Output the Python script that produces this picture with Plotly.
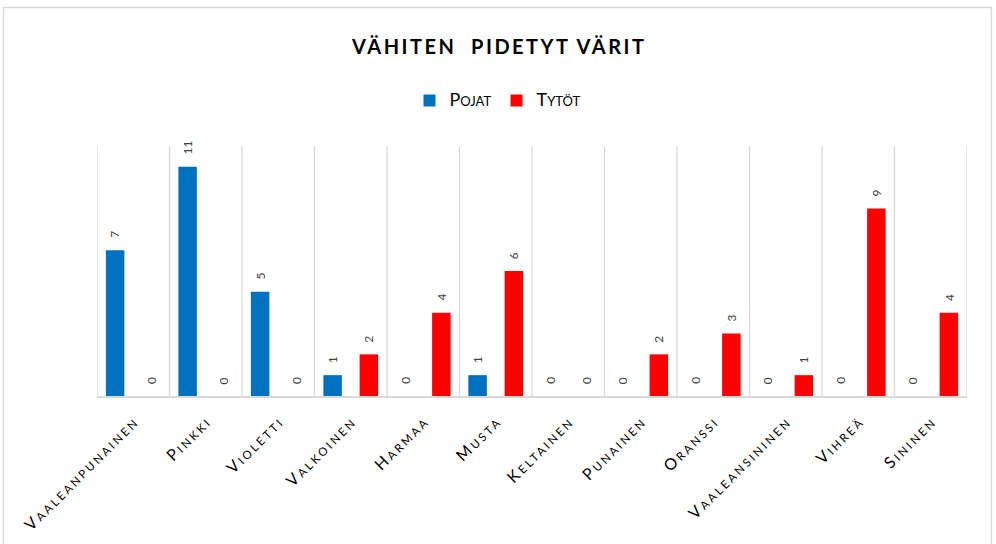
import plotly.graph_objects as go

categories = ["Vaaleanpunainen", "Pinkki", "Violetti", "Valkoinen", "Harmaa", "Musta",
              "Keltainen", "Punainen", "Oranssi", "Vaaleansininen", "Vihreä", "Sininen"]
pojat = [7, 11, 5, 1, 0, 1, 0, 0, 0, 0, 0, 0]
tytot = [0, 0, 0, 2, 4, 6, 0, 2, 3, 1, 9, 4]
series_names = ["Pojat", "Tytöt"]
colors = ["#0070C0", "#FF0000"]
title_text = "VÄHITEN  PIDETYT VÄRIT"

FONT = "Lato, 'Open Sans', sans-serif"


def smallcaps(s, big=16, small=11.5):
    return (f"<span style='font-size:{big}px'>{s[0].upper()}</span>"
            f"<span style='font-size:{small}px'>{s[1:].upper()}</span>")


ticktext = [smallcaps(c) for c in categories]

fig = go.Figure()
for name, vals, col in zip(series_names, [pojat, tytot], colors):
    fig.add_trace(go.Bar(
        x=list(range(len(categories))), y=vals, name=smallcaps(name, 18, 13),
        marker=dict(color=col, line=dict(width=0)),
    ))

# data labels (rotated) above each bar, offset within the group
n_series = 2
bargap = 0.0
slot = (1 - bargap) / n_series
annotations = []
for s, vals in enumerate([pojat, tytot]):
    off = -0.5 * (1 - bargap) + slot * (s + 0.5)
    for i, v in enumerate(vals):
        annotations.append(dict(
            x=i + off, y=v, xref="x", yref="y", text=str(v), showarrow=False,
            textangle=-90, xanchor="center", yanchor="bottom", yshift=10,
            font=dict(family=FONT, size=12, color="#404040"),
        ))

L, R, T, B = 97, 29, 146, 148
W, H = 996, 544
pw, ph = W - L - R, H - T - B

fig.update_layout(
    width=W, height=H,
    margin=dict(l=L, r=R, t=T, b=B, autoexpand=False),
    paper_bgcolor="white", plot_bgcolor="white",
    barmode="group", bargap=bargap, bargroupgap=0.49,
    font=dict(family=FONT, color="#000000"),
    title=dict(text=f"<b>{title_text}</b>", x=0.5, xanchor="center", xref="container",
               y=1 - 47 / H, yanchor="middle",
               font=dict(family=FONT, size=20, color="#000000")),
    legend=dict(orientation="h", xref="container", x=498 / W, xanchor="center",
                yref="container", y=1 - 101 / H, yanchor="middle",
                font=dict(family=FONT, size=14, color="#000000"),
                traceorder="normal", itemwidth=30),
    showlegend=True,
    annotations=annotations,
    xaxis=dict(
        tickmode="array", tickvals=list(range(len(categories))), ticktext=ticktext,
        tickangle=-45, showgrid=False, showline=True, linecolor="#d9d9d9", linewidth=1.5,
        ticks="", tickfont=dict(family=FONT, size=14, color="#000000"),
        ticklabelstandoff=12,
        range=[-0.5, len(categories) - 0.5], fixedrange=True, zeroline=False,
    ),
    yaxis=dict(range=[0, 12], showgrid=False, showticklabels=False, zeroline=False,
               showline=False, ticks=""),
)

# vertical gridlines at category boundaries
for k in range(len(categories) + 1):
    fig.add_shape(type="line", xref="x", yref="paper", x0=k - 0.5, x1=k - 0.5, y0=0, y1=1,
                  line=dict(color="#d9d9d9", width=1.3), layer="below")

# outer chart border
fig.add_shape(type="rect", xref="paper", yref="paper",
              x0=(3.5 - L) / pw, x1=(991.5 - L) / pw,
              y0=-(560 - (H - B)) / ph, y1=(H - B - 7.5) / ph,
              line=dict(color="#d9d9d9", width=1.5), fillcolor="rgba(0,0,0,0)", layer="below")

post = """
document.body.style.margin = '0';
var gd = document.getElementById('{plot_id}');
function applySpacing(sel, sp, mode) {
  gd.querySelectorAll(sel).forEach(function(t){
    if (t.dataset.spaced) return;
    var b0 = t.getBBox();
    t.style.letterSpacing = sp + 'px';
    var b1 = t.getBBox();
    var d;
    if (mode === 'end') d = (b1.x + b1.width) - (b0.x + b0.width) - sp;
    else d = (b1.x + b1.width / 2) - (b0.x + b0.width / 2) - sp / 2;
    t.setAttribute('dx', (-d).toFixed(2));
    t.dataset.spaced = '1';
  });
}
function spacing() {
  applySpacing('.xtick text', 2.6, 'end');
  applySpacing('.gtitle', 2.5, 'middle');
}
spacing();
gd.on('plotly_afterplot', spacing);
"""

fig.write_html("out.html", post_script=post, config={"displayModeBar": False})
